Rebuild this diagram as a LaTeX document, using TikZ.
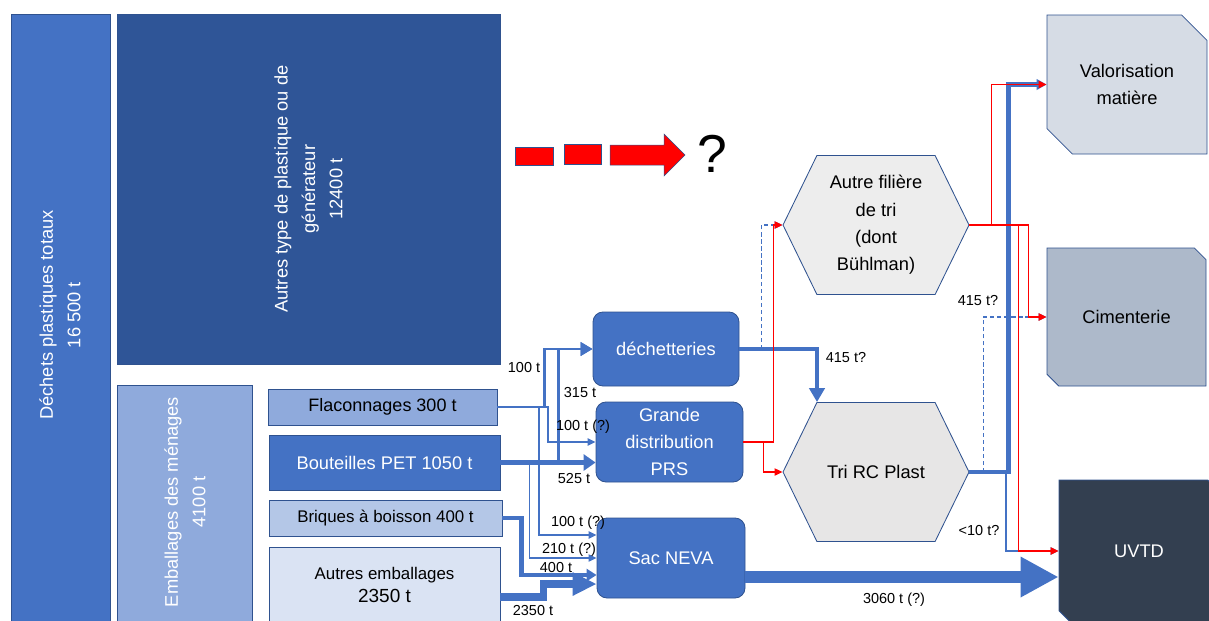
\documentclass[tikz,border=0pt]{standalone}
\usepackage{fontspec}
\setmainfont{Liberation Sans}
\usepackage{tikz}
\usetikzlibrary{arrows.meta,shapes.misc,shapes.symbols}

\newlength\pu
\setlength\pu{0.025cm}

\definecolor{blueflow}{HTML}{4472C4}
\definecolor{darkbox}{HTML}{2F5597}
\definecolor{edgeblue}{HTML}{2F528F}
\definecolor{lightA}{HTML}{8FAADC}
\definecolor{lightB}{HTML}{B4C7E7}
\definecolor{lightC}{HTML}{DAE3F3}
\definecolor{hexlight}{HTML}{EDEDED}
\definecolor{hexgrey}{HTML}{E7E6E6}
\definecolor{valofill}{HTML}{D6DCE5}
\definecolor{cimfill}{HTML}{ADB9CA}
\definecolor{uvtdfill}{HTML}{333F50}
\definecolor{redflow}{HTML}{FF0000}

\begin{document}
\begin{tikzpicture}[x=0.025cm, y=-0.025cm,
  every node/.style={font=\fontsize{13}{19.5}\selectfont, inner sep=0pt, align=center},
  bigbox/.style={draw=edgeblue, line width=0.6pt},
  item/.style={draw=edgeblue, line width=0.6pt},
  centre/.style={draw=edgeblue, fill=blueflow, text=white, rounded corners=10\pu, line width=0.6pt},
  hexa/.style={shape=signal, signal to=west and east, signal pointer angle=128, draw=edgeblue, line width=0.6pt, minimum width=186\pu, minimum height=139\pu},
  outbox/.style={chamfered rectangle, chamfered rectangle corners={north east,south west}, chamfered rectangle xsep=22\pu, draw=edgeblue, line width=0.6pt},
  qty/.style={font=\fontsize{10.3}{12}\selectfont},
  pipe t/.style={draw=blueflow, line width=1pt, -{Triangle[length=2mm,width=1.8mm]}},
  pipe s/.style={draw=blueflow, line width=1.4pt, -{Triangle[length=2mm,width=1.8mm]}},
  pipe d/.style={draw=blueflow, line width=1pt, dash pattern=on 3pt off 2pt, -{Triangle[length=2mm,width=1.8mm]}},
  pipe m/.style={draw=blueflow, line width=2.1pt, -{Triangle[length=3mm,width=3.3mm]}},
  pipe l/.style={draw=blueflow, line width=3.5pt, -{Triangle[length=3mm,width=4mm]}},
  pipe b/.style={draw=blueflow, line width=3.5pt, -{Triangle[length=2.5mm,width=3mm]}},
  pipe x/.style={draw=blueflow, line width=5.5pt, -{Triangle[length=6mm,width=5.5mm]}},
  pipe tr/.style={draw=blueflow, line width=3.5pt, -{Triangle[length=3.5mm,width=3.8mm]}},
  pipe tv/.style={draw=blueflow, line width=3pt, -{Triangle[length=2.5mm,width=2.6mm]}},
  pipe xx/.style={draw=blueflow, line width=9.2pt, -{Triangle[length=9.5mm,width=9.5mm]}},
  redpipe/.style={draw=redflow, line width=1.1pt, -{Triangle[length=2mm,width=1.8mm]}}]

  \clip (0,0) rectangle (1209,620);

  \node[bigbox, fill=blueflow, minimum width=99\pu, minimum height=640\pu] (tot) at (60.5,334) {};
  \node[rotate=90, text=white] (totlbl) at (60,315) {Déchets plastiques totaux\\16 500 t};
  \node[bigbox, fill=darkbox, text=white, rotate=90, minimum width=350\pu, minimum height=383\pu] (autres) at (308.5,189) {Autres type de plastique ou de\\générateur\\12400 t};
  \node[bigbox, fill=lightA, minimum width=135\pu, minimum height=260\pu] (menages) at (184.5,515) {};
  \node[rotate=90, text=white] (menlbl) at (185,502) {Emballages des ménages\\4100 t};

  \node[item, fill=lightA, minimum width=229\pu, minimum height=36\pu, font=\fontsize{12.8}{15}\selectfont] (flac) at (382.5,407) {Flaconnages 300 t};
  \node[item, fill=blueflow, text=white, minimum width=231\pu, minimum height=55\pu] (bout) at (384.5,462.5) {Bouteilles PET 1050 t};
  \node[item, fill=lightB, minimum width=233\pu, minimum height=36\pu, font=\fontsize{12}{14}\selectfont] (briq) at (385.5,518) {Briques à boisson 400 t};
  \node[item, fill=lightC, minimum width=231\pu, minimum height=76\pu, font=\fontsize{13.5}{17}\selectfont] (autremb) at (384.5,585) {{\fontsize{12}{14}\selectfont Autres emballages}\\2350 t};

  \node[centre, minimum width=146\pu, minimum height=74\pu] (dech) at (666,349) {déchetteries};
  \node[centre, minimum width=147\pu, minimum height=80\pu] (gd) at (669.5,442) {Grande\\distribution\\PRS};
  \node[centre, minimum width=148\pu, minimum height=80\pu] (neva) at (671,558) {Sac NEVA};

  \node[hexa, fill=hexlight] (autre) at (876,225) {Autre filière\\de tri\\(dont\\Bühlman)};
  \node[hexa, fill=hexgrey] (trc) at (876,472) {Tri RC Plast};

  \node[outbox, fill=valofill, minimum width=160\pu, minimum height=139\pu] (valo) at (1127,84.5) {Valorisation\\matière};
  \node[outbox, fill=cimfill, minimum width=159\pu, minimum height=138\pu] (cim) at (1126.5,317) {Cimenterie};
  \node[outbox, fill=uvtdfill, text=white, minimum width=160\pu, minimum height=142\pu] (uvtd) at (1139,551) {UVTD};

  \filldraw[fill=redflow, draw=edgeblue, line width=0.35pt] (515,147) rectangle (553,165);
  \filldraw[fill=redflow, draw=edgeblue, line width=0.35pt] (564,144) rectangle (601,164);
  \filldraw[fill=redflow, draw=edgeblue, line width=0.35pt] (610,145) -- (664,145) -- (664,134) -- (685,155) -- (664,176) -- (664,165) -- (610,165) -- cycle;
  \node[font=\fontsize{38}{40}\selectfont] (q) at (712,154) {?};

  \draw[pipe m] (flac.east) -- ++(47,0) |- (dech.west);
  \draw[pipe s] (flac.east) -- ++(51,0) |- (gd.west);
  \draw[pipe s] (flac.east) -- ++(42,0) |- ([yshift=23\pu]neva.west);
  \draw[pipe l] (bout.east) -- (bout.east -| gd.west);
  \draw[pipe m] (bout.east) -- ++(58,0) |- (dech.west);
  \draw[pipe t] (bout.east) -- ++(29,0) |- (neva.west);
  \draw[pipe b] (briq.east) -- ++(19,0) |- ([yshift=-17\pu]neva.west);
  \draw[pipe x] ([yshift=-12\pu]autremb.east) -- ++(43,0) |- ([yshift=-26\pu]neva.west);

  \draw[pipe tr] (dech.east) -| ([xshift=-59\pu]trc.north);
  \draw[pipe d] ([xshift=22\pu]dech.east) |- (autre.west);
  \draw[pipe tv] (trc.east) -- ++(39,0) |- (valo.west);
  \draw[pipe d] ([xshift=14\pu]trc.east) |- (cim.west);
  \draw[pipe s] ([xshift=37\pu]trc.east) |- (uvtd.west);
  \draw[pipe xx] ([yshift=-19\pu]neva.east) -- ([yshift=-26\pu]uvtd.west);

  \draw[redpipe] (gd.east) -- ++(30,0) |- (autre.west);
  \draw[redpipe] (gd.east) -- ++(20,0) |- (trc.west);
  \draw[redpipe, line width=1.3pt] (autre.east) -- ++(22,0) |- (valo.west);
  \draw[redpipe] (autre.east) -- ++(59,0) |- (cim.west);
  \draw[redpipe] (autre.east) -- ++(49,0) |- (uvtd.west);

  \node[qty] (q1) at (524,368) {100 t};
  \node[qty] (q2) at (580,393) {315 t};
  \node[qty] (q3) at (583,427) {100 t (?)};
  \node[qty] (q4) at (574,479) {525 t};
  \node[qty] (q5) at (578,523) {100 t (?)};
  \node[qty] (q6) at (569,550) {210 t (?)};
  \node[qty] (q7) at (556,568) {400 t};
  \node[qty] (q8) at (533,611) {2350 t};
  \node[qty] (q9) at (846,358) {415 t?};
  \node[qty] (q10) at (978,301) {415 t?};
  \node[qty] (q11) at (979,531) {<10 t?};
  \node[qty] (q12) at (894,600) {3060 t (?)};
\end{tikzpicture}
\end{document}
